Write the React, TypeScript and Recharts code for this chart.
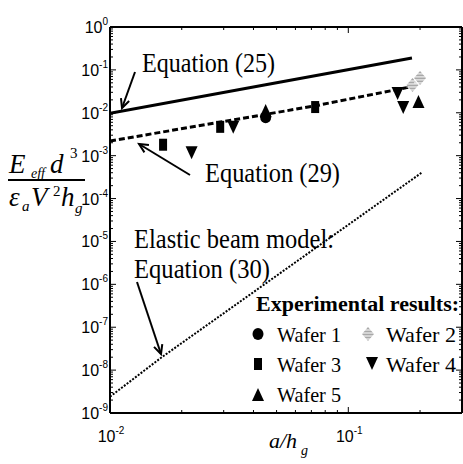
import React from 'react';
import { ComposedChart, Line, Scatter, XAxis, YAxis } from 'recharts';

const W = 463;
const H = 464;
const SERIF = '"Liberation Serif", "Times New Roman", serif';
const SANS = '"Liberation Sans", Arial, sans-serif';

// model curves
const EQ25_X = [0.01, 0.045, 0.185];
const EQ25_Y = [0.0098, 0.045, 0.19];
const EQ29_X = [0.01, 0.0726, 0.19];
const EQ29_Y = [0.0022, 0.0145, 0.042];
const EQ30_X = [0.01, 0.0165, 0.203];
const EQ30_Y = [2.4e-9, 2.0e-8, 4.0e-4];

// experimental results
const WAFER1_X = [0.045];
const WAFER1_Y = [0.0079];
const WAFER2_X = [0.186, 0.2];
const WAFER2_Y = [0.0445, 0.065];
const WAFER3_X = [0.0167, 0.029, 0.0726];
const WAFER3_Y = [0.0018, 0.0047, 0.0136];
const WAFER4_X = [0.022, 0.0329, 0.161, 0.17];
const WAFER4_Y = [0.0012, 0.0047, 0.029, 0.0137];
const WAFER5_X = [0.045, 0.197];
const WAFER5_Y = [0.011, 0.0179];

// ticks
const X_TICKS = [0.01, 0.02, 0.03, 0.04, 0.05, 0.06, 0.07, 0.08, 0.09, 0.1, 0.2, 0.3];
const Y_MAJOR = [1e-9, 1e-8, 1e-7, 1e-6, 1e-5, 1e-4, 1e-3, 1e-2, 1e-1, 1];
const Y_MINOR_STEPS = [2, 3, 4, 5, 6, 7, 8, 9];
const Y_TICKS = Y_MAJOR.flatMap((m) => (m < 1 ? [m, ...Y_MINOR_STEPS.map((s) => m * s)] : [m]));

const zip = (xs: number[], ys: number[]) => xs.map((x, i) => ({ x, y: ys[i] }));

const isMajor = (v: number) => {
  const lg = Math.log10(v);
  return Math.abs(lg - Math.round(lg)) < 1e-6;
};

const expOf = (v: number) => String(Math.round(Math.log10(v)));

const makeTick = (side: 'bottom' | 'top' | 'left' | 'right') => (props: any) => {
  const { x, y, payload } = props;
  const v = payload.value as number;
  const major = isMajor(v);
  const len = major ? 6 : 3;
  let line = null;
  if (side === 'bottom') line = <line x1={x} x2={x} y1={y} y2={y - len} stroke="#000" strokeWidth={1} />;
  if (side === 'top') line = <line x1={x} x2={x} y1={y} y2={y + len} stroke="#000" strokeWidth={1} />;
  if (side === 'left') line = <line x1={x} x2={x + len} y1={y} y2={y} stroke="#000" strokeWidth={1} />;
  if (side === 'right') line = <line x1={x} x2={x - len} y1={y} y2={y} stroke="#000" strokeWidth={1} />;
  let label = null;
  if (major && side === 'bottom') {
    label = (
      <text x={x + 1} y={y + 29} textAnchor="middle" fontFamily={SANS} fontSize={16} fill="#000">
        10<tspan fontSize={10} dy={-8}>{expOf(v)}</tspan>
      </text>
    );
  }
  if (major && side === 'left') {
    label = (
      <text x={x - 2} y={y + 6} textAnchor="end" fontFamily={SANS} fontSize={16} fill="#000">
        10<tspan fontSize={10} dy={-8}>{expOf(v)}</tspan>
      </text>
    );
  }
  return (
    <g>
      {line}
      {label}
    </g>
  );
};

const Circle = ({ cx, cy }: any) => <ellipse cx={cx} cy={cy} rx={5.5} ry={6} fill="#000" />;
const Square = ({ cx, cy }: any) => <rect x={cx - 4} y={cy - 6} width={8} height={12} fill="#000" />;
const TriDown = ({ cx, cy }: any) => (
  <polygon points={`${cx - 6},${cy - 6} ${cx + 6},${cy - 6} ${cx},${cy + 7}`} fill="#000" />
);
const TriUp = ({ cx, cy }: any) => (
  <polygon points={`${cx - 6},${cy + 6} ${cx + 6},${cy + 6} ${cx},${cy - 7}`} fill="#000" />
);
const Hatched = ({ cx, cy }: any) => (
  <g>
    <polygon points={`${cx},${cy - 7} ${cx + 6},${cy} ${cx},${cy + 7} ${cx - 6},${cy}`} fill="#a8a8a8" />
    {[-4, -1, 2, 5].map((d) => (
      <line key={d} x1={cx - 6} x2={cx + 6} y1={cy + d} y2={cy + d} stroke="#fff" strokeWidth={1} />
    ))}
  </g>
);

const Arrow = ({ x1, y1, x2, y2 }: { x1: number; y1: number; x2: number; y2: number }) => {
  const a = Math.atan2(y2 - y1, x2 - x1);
  const L = 10;
  const s = 0.45;
  const p1 = [x2 - L * Math.cos(a - s), y2 - L * Math.sin(a - s)];
  const p2 = [x2 - L * Math.cos(a + s), y2 - L * Math.sin(a + s)];
  return (
    <g stroke="#000" strokeWidth={2} fill="none">
      <line x1={x1} y1={y1} x2={x2} y2={y2} />
      <polyline points={`${p1[0]},${p1[1]} ${x2},${y2} ${p2[0]},${p2[1]}`} />
    </g>
  );
};

const axisCommon = {
  type: 'number' as const,
  scale: 'log' as const,
  allowDataOverflow: true,
  tickSize: 0,
  tickMargin: 0,
  tickLine: false,
  interval: 0 as const,
  axisLine: { stroke: '#000', strokeWidth: 2 },
};

export default function App() {
  return (
    <div style={{ position: 'absolute', left: 0, top: 0, width: W, height: H, background: '#fff' }}>
      <ComposedChart width={W} height={H} margin={{ top: 26, right: 0, bottom: 50, left: 109 }}>
        <XAxis {...axisCommon} dataKey="x" domain={[0.01, 0.3]} ticks={X_TICKS} height={1} tick={makeTick('bottom')} />
        <XAxis
          {...axisCommon}
          xAxisId="top"
          orientation="top"
          dataKey="x"
          domain={[0.01, 0.3]}
          ticks={X_TICKS}
          height={1}
          tick={makeTick('top')}
        />
        <YAxis {...axisCommon} dataKey="y" domain={[1e-9, 1]} ticks={Y_TICKS} width={1} tick={makeTick('left')} />
        <YAxis
          {...axisCommon}
          yAxisId="right"
          orientation="right"
          dataKey="y"
          domain={[1e-9, 1]}
          ticks={Y_TICKS}
          width={1}
          tick={makeTick('right')}
        />
        <Line data={zip(EQ25_X, EQ25_Y)} dataKey="y" stroke="#000" strokeWidth={3} dot={false} isAnimationActive={false} />
        <Line
          data={zip(EQ29_X, EQ29_Y)}
          dataKey="y"
          stroke="#000"
          strokeWidth={3}
          strokeDasharray="6 3"
          dot={false}
          isAnimationActive={false}
        />
        <Line
          data={zip(EQ30_X, EQ30_Y)}
          dataKey="y"
          stroke="#000"
          strokeWidth={2}
          strokeDasharray="2 1.5"
          dot={false}
          isAnimationActive={false}
        />
        <Scatter data={zip(WAFER3_X, WAFER3_Y)} shape={Square} isAnimationActive={false} />
        <Scatter data={zip(WAFER4_X, WAFER4_Y)} shape={TriDown} isAnimationActive={false} />
        <Scatter data={zip(WAFER1_X, WAFER1_Y)} shape={Circle} isAnimationActive={false} />
        <Scatter data={zip(WAFER5_X, WAFER5_Y)} shape={TriUp} isAnimationActive={false} />
        <Scatter data={zip(WAFER2_X, WAFER2_Y)} shape={Hatched} isAnimationActive={false} />
      </ComposedChart>

      <svg width={W} height={H} style={{ position: 'absolute', left: 0, top: 0, pointerEvents: 'none' }}>
        {/* annotations */}
        <g fontFamily={SERIF} fontSize={27} fill="#000">
          <text x={142} y={72} textLength={133} lengthAdjust="spacingAndGlyphs">Equation (25)</text>
          <text x={205} y={182} textLength={135} lengthAdjust="spacingAndGlyphs">Equation (29)</text>
          <text x={134} y={248} textLength={200} lengthAdjust="spacingAndGlyphs">Elastic beam model:</text>
          <text x={134} y={278} textLength={136} lengthAdjust="spacingAndGlyphs">Equation (30)</text>
        </g>
        <Arrow x1={135} y1={72} x2={122} y2={108} />
        <Arrow x1={190} y1={175} x2={139} y2={144} />
        <Arrow x1={137} y1={282} x2={161} y2={354} />

        {/* legend */}
        <g fontFamily={SERIF} fill="#000">
          <text x={256} y={311} fontSize={22} fontWeight="bold">
            Experimental results:
          </text>
          <Circle cx={258} cy={334} />
          <text x={277} y={342} fontSize={22} textLength={64} lengthAdjust="spacingAndGlyphs">Wafer 1</text>
          <Hatched cx={368} cy={334} />
          <text x={386} y={342} fontSize={22} textLength={70} lengthAdjust="spacingAndGlyphs">Wafer 2</text>
          <Square cx={258} cy={364} />
          <text x={277} y={372} fontSize={22} textLength={64} lengthAdjust="spacingAndGlyphs">Wafer 3</text>
          <TriDown cx={372} cy={363} />
          <text x={386} y={372} fontSize={22} textLength={70} lengthAdjust="spacingAndGlyphs">Wafer 4</text>
          <TriUp cx={258} cy={395} />
          <text x={277} y={402} fontSize={22} textLength={64} lengthAdjust="spacingAndGlyphs">Wafer 5</text>
        </g>

        {/* y-axis label */}
        <g fontFamily={SERIF} fontStyle="italic" fill="#000">
          <text x={9} y={173} fontSize={27}>E</text>
          <text x={31} y={178} fontSize={14}>eff</text>
          <text x={50} y={173} fontSize={27}>d</text>
          <text x={70} y={158} fontSize={15} fontStyle="normal">3</text>
          <line x1={8} x2={85} y1={180} y2={180} stroke="#000" strokeWidth={2} />
          <text x={9} y={206} fontSize={27}>ε</text>
          <text x={22} y={211} fontSize={15}>a</text>
          <text x={31} y={206} fontSize={27}>V</text>
          <text x={53} y={196} fontSize={15} fontStyle="normal">2</text>
          <text x={61} y={206} fontSize={27}>h</text>
          <text x={75} y={213} fontSize={15}>g</text>
        </g>

        {/* x-axis label */}
        <g fontFamily={SERIF} fontStyle="italic" fill="#000">
          <text x={269} y={448} fontSize={22}>a/h</text>
          <text x={301} y={455} fontSize={14}>g</text>
        </g>
      </svg>
    </div>
  );
}
